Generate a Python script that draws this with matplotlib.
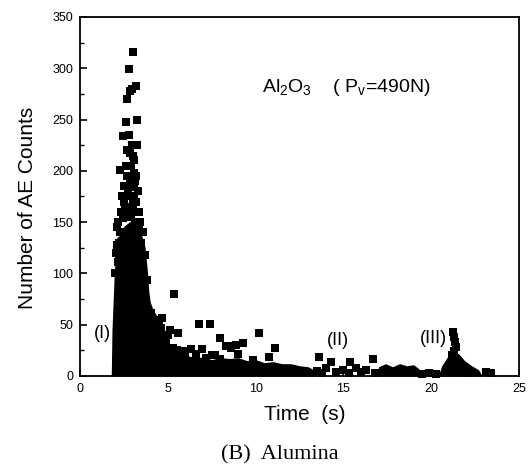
import matplotlib
matplotlib.use('Agg')
import matplotlib.pyplot as plt
from matplotlib.ticker import MultipleLocator

plt.rcParams['font.family'] = ['Liberation Sans', 'DejaVu Sans']
plt.rcParams['mathtext.fontset'] = 'custom'
plt.rcParams['mathtext.rm'] = 'Liberation Sans'
plt.rcParams['mathtext.it'] = 'Liberation Sans:italic'

# dense burst regions (outline of the solid black mass), time in s / counts
core_t = [1.78, 1.82, 1.88, 1.95, 2.05, 2.10, 2.30, 2.50, 2.80, 3.00, 3.30, 3.50,
          3.70, 3.85, 3.92, 4.00, 4.20, 4.50, 4.70, 4.80, 5.00, 5.20, 5.50, 5.80,
          6.30, 7.00, 7.50, 8.00, 8.50, 9.00, 9.50, 10.0, 10.5, 11.0, 11.5, 12.0,
          12.5, 13.0, 13.3, 13.4]
core_top = [0, 45, 70, 100, 128, 135, 138, 146, 150, 152, 144, 138,
            126, 100, 82, 72, 63, 56, 49, 40, 33, 30, 27, 22,
            19, 18, 16, 18, 17, 18, 15, 16, 13, 14, 12, 12,
            10, 9, 6, 0]

band_t = [16.9, 17.0, 17.4, 17.8, 18.2, 18.6, 19.0, 19.3, 19.4]
band_top = [0, 9, 12, 9, 12, 10, 11, 7, 0]

peak3_t = [20.4, 20.6, 20.9, 21.1, 21.3, 21.6, 21.9, 22.3, 22.7, 22.9]
peak3_top = [0, 10, 18, 22, 25, 21, 15, 10, 6, 0]

# individual events
pt_t = [3.03, 2.78, 3.16, 2.84, 2.95, 2.67, 3.22, 2.63, 2.46, 2.80, 2.84, 3.00,
        3.05, 2.27, 3.10, 3.15, 3.05, 2.84, 2.95, 2.75, 3.00, 2.90, 3.10, 2.46,
        2.90, 3.15, 2.08, 2.85, 3.05, 2.08, 3.69, 2.20, 2.18, 3.75, 3.79, 2.60,
        2.70, 3.20, 2.00, 2.05, 3.40, 3.55, 3.30, 4.07, 4.30, 4.50, 4.90, 5.50,
        6.00, 7.20, 7.70, 8.00, 9.00, 2.55, 2.70, 3.35, 2.40, 3.25,
        2.50, 2.60, 2.90, 3.20, 2.70, 2.95, 2.50, 3.30, 2.35, 3.35, 2.60, 3.40,
        2.30, 2.15, 3.60, 2.20, 3.50, 2.75, 3.10,
        5.36, 4.68, 6.78, 7.39, 7.95, 5.10, 5.57, 6.34, 6.97, 5.27, 8.50, 8.90,
        8.30, 10.17, 9.28, 11.10, 9.85, 10.75, 8.60, 13.60, 14.30, 16.70, 15.40,
        13.50, 13.80, 14.00, 14.60, 15.00, 15.30, 15.70, 16.00, 16.30, 16.80,
        19.50, 19.90, 20.30, 21.25, 21.30, 21.35, 21.40, 21.30, 21.20, 22.00,
        23.10, 23.40, 4.60, 5.00, 5.85, 6.60, 7.50]
pt_n = [316, 299, 283, 278, 280, 270, 250, 248, 234, 235, 217, 214,
        211, 201, 198, 190, 184, 188, 185, 175, 168, 165, 160, 154,
        155, 150, 145, 142, 132, 128, 118, 116, 111, 94, 94, 160,
        128, 170, 100, 120, 125, 110, 135, 61, 55, 50, 35, 25,
        20, 18, 20, 17, 21, 165, 195, 145, 175, 225,
        185, 205, 205, 195, 220, 225, 170, 180, 160, 160, 140, 150,
        140, 150, 140, 130, 130, 180, 175,
        80, 57, 51, 51, 37, 45, 42, 26, 26, 27, 29, 30,
        29, 42, 32, 27, 16, 19, 27, 19, 14, 17, 14,
        5, 3, 8, 4, 6, 3, 8, 4, 6, 3,
        2, 3, 2, 43, 38, 33, 28, 24, 20, 3,
        4, 3, 47, 40, 24, 21, 20]

fig = plt.figure(figsize=(5.32, 4.76), dpi=100)
ax = fig.add_axes([0.1504, 0.2101, 0.8252, 0.7542])

ax.fill_between(core_t, 0, core_top, color='black', lw=0)
ax.fill_between(band_t, 0, band_top, color='black', lw=0)
ax.fill_between(peak3_t, 0, peak3_top, color='black', lw=0)
ax.scatter(pt_t, pt_n, marker='s', s=28, c='black', linewidths=0, clip_on=False)

ax.set_xlim(0, 25)
ax.set_ylim(0, 350)
ax.xaxis.set_major_locator(MultipleLocator(5))
ax.yaxis.set_major_locator(MultipleLocator(50))
ax.yaxis.set_minor_locator(MultipleLocator(25))
ax.tick_params(direction='in', labelsize=9, pad=5, length=5, width=1.2,
               top=False, right=False)
ax.tick_params(which='minor', direction='in', length=3, width=1)
for s in ax.spines.values():
    s.set_linewidth(1.3)

ax.set_xlabel('Time  (s)', fontsize=15)
ax.set_ylabel('Number of AE Counts', fontsize=15)
ax.xaxis.set_label_coords(0.511, -0.081)
ax.yaxis.set_label_coords(-0.098, 0.467)

ax.text(10.36, 277, r'Al$_2$O$_3$    ( P$_\mathrm{v}$=490N)', fontsize=14,
        ha='left', va='baseline')
ax.text(1.25, 41, '(I)', fontsize=13, ha='center', va='center')
ax.text(14.7, 35, '(II)', fontsize=13, ha='center', va='center')
ax.text(20.1, 37, '(III)', fontsize=13, ha='center', va='center')

fig.text(0.526, 0.044, '(B)  Alumina', fontsize=16,
         family=['Liberation Serif', 'DejaVu Serif'], ha='center', va='center')

fig.savefig('out.png', dpi=100)
